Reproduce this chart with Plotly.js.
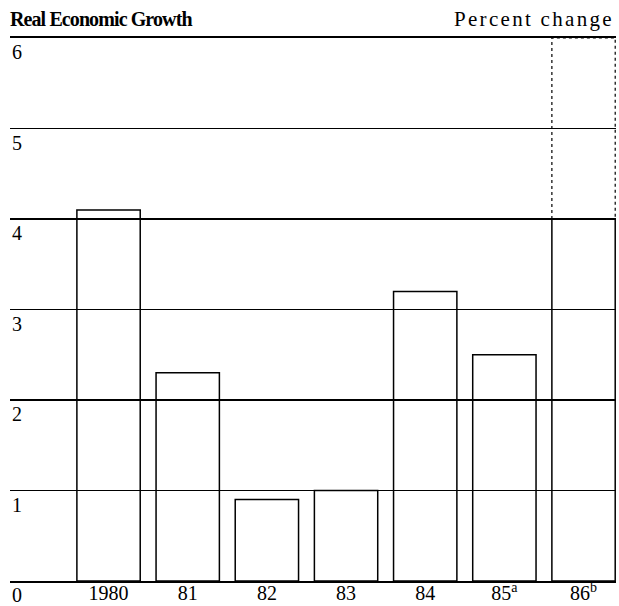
<!DOCTYPE html>
<html>
<head>
<meta charset="utf-8">
<script src="https://cdn.plot.ly/plotly-3.0.1.min.js"></script>
<style>html,body{margin:0;padding:0;background:#fff;}#chart{width:619px;height:606px;}</style>
</head>
<body>
<div id="chart"></div>
<script>
// Data
const years = ['1980', '81', '82', '83', '84', '85<sup>a</sup>', '86<sup>b</sup>'];
const growth = [4.1, 2.3, 0.9, 1.0, 3.2, 2.5, 4.0];
const projLow = 4;    // 1986 projected range (dashed part)
const projHigh = 6;
const yTicks = [0, 1, 2, 3, 4, 5, 6];

const pos = years.map((_, i) => i);
const barW = 0.8;
const serif = 'Liberation Serif';

const bars = {
  type: 'bar',
  x: pos,
  y: growth,
  width: barW,
  marker: { color: 'rgba(0,0,0,0)', line: { color: '#000', width: 1.5 } },
  hoverinfo: 'skip',
  showlegend: false,
  cliponaxis: false
};

const pIdx = years.length - 1;
const dashed = {
  type: 'scatter',
  mode: 'lines',
  x: [pos[pIdx] - barW / 2, pos[pIdx] - barW / 2, pos[pIdx] + barW / 2, pos[pIdx] + barW / 2],
  y: [projLow, projHigh, projHigh, projLow],
  line: { color: '#000', width: 1.2, dash: 'dot' },
  hoverinfo: 'skip',
  showlegend: false,
  cliponaxis: false
};

const annotations = yTicks.map(v => ({
  xref: 'paper', yref: 'y', x: 0, y: v,
  xanchor: 'left', yanchor: 'top', yshift: -1,
  text: String(v), showarrow: false,
  font: { family: serif, size: 20, color: '#000' }
}));
annotations.push({
  xref: 'paper', yref: 'paper', x: 1, y: 1 + 19 / 543,
  xanchor: 'right', yanchor: 'middle',
  text: '<span style="letter-spacing:2.3px">Percent change</span>', showarrow: false,
  font: { family: serif, size: 21, color: '#000' }
});

const layout = {
  width: 619, height: 606,
  margin: { l: 10, r: 3, t: 38, b: 25 },
  paper_bgcolor: '#fff', plot_bgcolor: '#fff',
  font: { family: serif, color: '#000' },
  title: {
    text: '<b><span style="letter-spacing:-0.9px">Real Economic Growth</span></b>',
    xref: 'paper', x: 0, xanchor: 'left',
    yref: 'container', y: 1 - 19 / 606, yanchor: 'middle',
    font: { family: serif, size: 20, color: '#000' }
  },
  xaxis: {
    range: [-1.245, 6.41],
    tickvals: pos, ticktext: years,
    ticks: '', showgrid: false, zeroline: false,
    showline: true, linecolor: '#000', linewidth: 2, mirror: true,
    ticklabelstandoff: -7,
    tickfont: { family: serif, size: 20, color: '#000' },
    fixedrange: true
  },
  yaxis: {
    range: [0, 6],
    tickvals: yTicks, showticklabels: false, ticks: '',
    showgrid: true, gridcolor: '#000', gridwidth: 1.3,
    zeroline: false, showline: false,
    fixedrange: true
  },
  annotations: annotations,
  showlegend: false
};

Plotly.newPlot('chart', [bars, dashed], layout, { staticPlot: true, displayModeBar: false });
</script>
</body>
</html>
